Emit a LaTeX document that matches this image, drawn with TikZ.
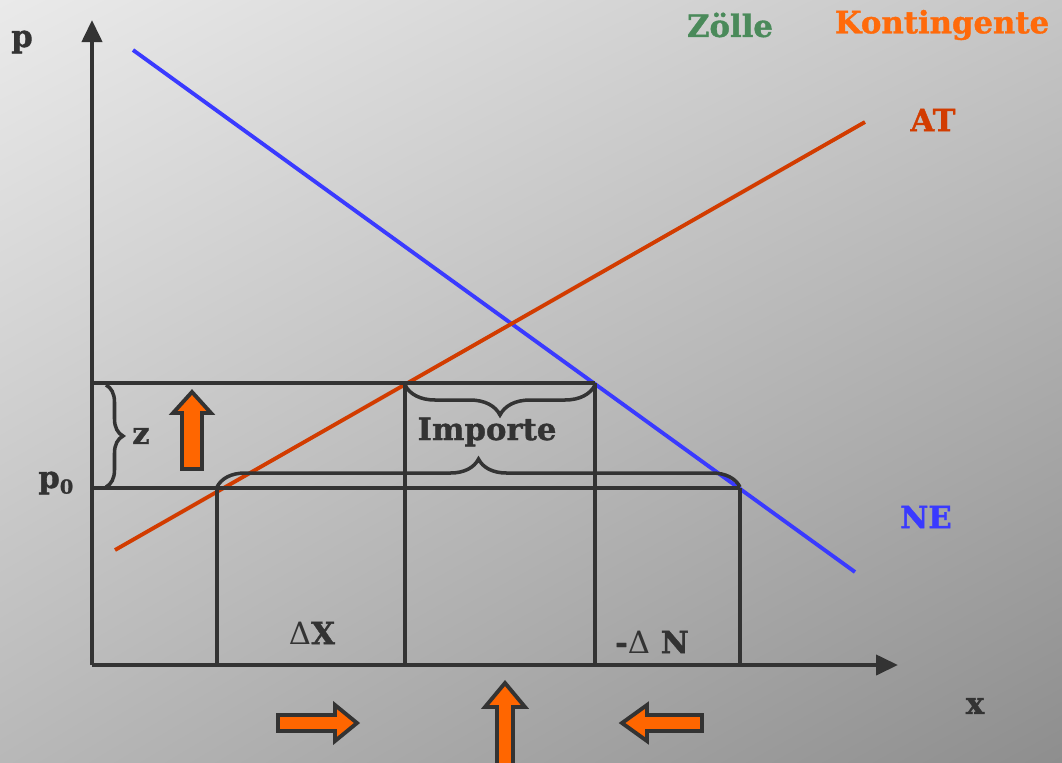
\documentclass[tikz,border=0pt]{standalone}
\usepackage{fontspec}
\setmainfont{DejaVu Serif}[BoldFeatures={FakeBold=1.2}]
\usetikzlibrary{arrows.meta,decorations.pathreplacing,shadings}
\definecolor{dk}{HTML}{333333}
\definecolor{nblue}{HTML}{3A3AFF}
\definecolor{ared}{HTML}{D23C00}
\definecolor{zgreen}{HTML}{4A8A5A}
\definecolor{korange}{HTML}{FF6A0A}
\definecolor{aorange}{HTML}{FF6600}
\definecolor{bgul}{HTML}{EAEAEA}
\definecolor{bgur}{HTML}{C6C6C6}
\definecolor{bgll}{HTML}{B8B8B8}
\definecolor{bglr}{HTML}{8E8E8E}
\tikzset{
  lbl/.style={font=\fontsize{17.5}{20}\selectfont\bfseries, inner sep=0pt},
  frame/.style={draw=dk, line width=2.3pt},
  curve/.style={line width=2.2pt},
  brc/.style={draw=dk, line width=2pt, decorate, decoration={brace, amplitude=#1}},
  fatarrow/.style={fill=aorange, draw=dk, line width=2.2pt, line join=miter}
}
\begin{document}
\begin{tikzpicture}[x=0.02cm, y=-0.02cm]
\useasboundingbox (0,0) rectangle (1062,762);
\clip (0,0) rectangle (1062,762);
\shade[upper left=bgul, upper right=bgur, lower left=bgll, lower right=bglr]
  (0,0) rectangle (1062,762);

% coordinates
\coordinate (O) at (92,665);
\coordinate (ytip) at (92,20);
\coordinate (xtip) at (898,665);
\coordinate (ne1) at (133,50);
\coordinate (ne2) at (855,572);
\coordinate (at1) at (115,550);
\coordinate (at2) at (865,122);
\coordinate (zL) at (92,383);
\coordinate (zA) at (405,383);
\coordinate (zB) at (595,383);
\coordinate (pL) at (92,488);
\coordinate (pA) at (217,488);
\coordinate (pB) at (740,488);
\coordinate (bA) at (217,665);
\coordinate (bB) at (405,665);
\coordinate (bC) at (595,665);
\coordinate (bD) at (740,665);

% curves
\draw[curve, nblue] (ne1) -- (ne2);
\draw[curve, ared] (at1) -- (at2);

% frame lines
\draw[frame] (zL) -- (zB);
\draw[frame] (pL) -- (pB);
\draw[frame] (pA) -- (bA);
\draw[frame] (zA) -- (bB);
\draw[frame] (zB) -- (bC);
\draw[frame] (pB) -- (bD);

% axes
\draw[frame, -{Triangle[length=0.44cm, width=0.40cm]}] (O) -- (ytip);
\draw[frame, -{Triangle[length=0.44cm, width=0.40cm]}] (O) -- (xtip);

% braces
\coordinate (zb1) at (106,385);
\coordinate (zb2) at (106,487);
\draw[brc=0.34cm] (zb1) -- (zb2);
\coordinate (ib1) at (595,385);
\coordinate (ib2) at (405,385);
\draw[brc=0.6cm] (ib1) -- (ib2);
\coordinate (lb1) at (217,487);
\coordinate (lb2) at (740,487);
\draw[brc=0.56cm] (lb1) -- (lb2);

% labels
\node[lbl, text=dk] (p) at (22,42) {p};
\node[lbl, text=dk] (x) at (975,706) {x};
\node[lbl, text=dk, anchor=west] (p0) at (38,483) {p\raisebox{-0.35ex}{\fontsize{11}{12}\selectfont 0}};
\node[lbl, text=dk] (z) at (141,436) {z};
\node[lbl, text=dk] (imp) at (487,432) {Importe};
\node[lbl, text=dk] (dx) at (312,633) {{\mdseries\char"0394}X};
\node[lbl, text=dk] (dn) at (652,642) {-{\mdseries\char"0394} N};
\node[lbl, text=zgreen] (zoelle) at (730,25) {Zölle};
\node[lbl, text=korange] (kont) at (942,25) {Kontingente};
\node[lbl, text=ared] (AT) at (933,120) {AT};
\node[lbl, text=nblue] (NE) at (926,517) {NE};

% fat arrows
\draw[fatarrow] (182,469) -- (182,413) -- (173,413) -- (192,392) -- (211,413) -- (202,413) -- (202,469) -- cycle;
\draw[fatarrow] (497,770) -- (497,707) -- (485,707) -- (505,683) -- (525,707) -- (513,707) -- (513,770) -- cycle;
\draw[fatarrow] (278,715) -- (335,715) -- (335,705) -- (357,723) -- (335,741) -- (335,731) -- (278,731) -- cycle;
\draw[fatarrow] (702,715) -- (647,715) -- (647,705) -- (622,723) -- (647,741) -- (647,731) -- (702,731) -- cycle;
\end{tikzpicture}
\end{document}
